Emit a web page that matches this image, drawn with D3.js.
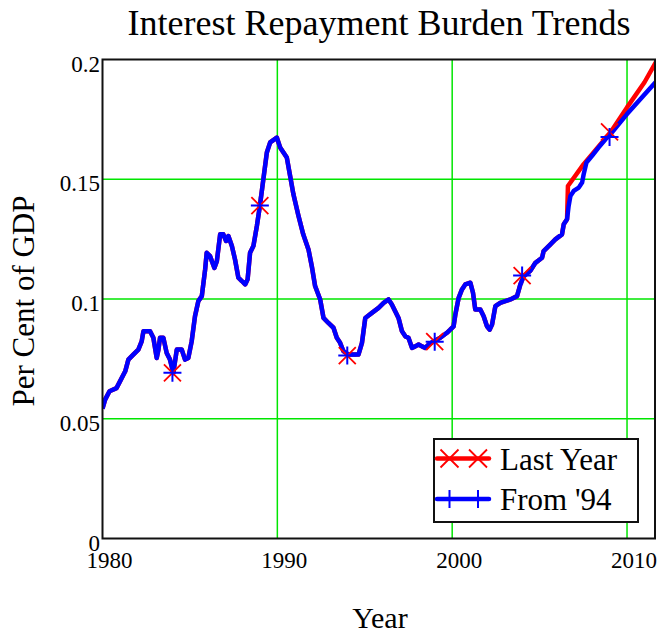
<!DOCTYPE html>
<html><head><meta charset="utf-8">
<script src="https://cdn.jsdelivr.net/npm/d3@7"></script>
<style>
html,body{margin:0;padding:0;background:#fff;}
svg{display:block;}
svg text{font-family:"Liberation Serif","Times New Roman",serif !important;}
</style></head>
<body>
<svg id="chart" width="659" height="639"></svg>
<script>
// ---- data ----
const title = "Interest Repayment Burden Trends";
const xLabel = "Year";
const yLabel = "Per Cent of GDP";
const xTicks = [1980, 1990, 2000, 2010];
const yTicks = [0, 0.05, 0.1, 0.15, 0.2];
const yTickLabels = ["0", "0.05", "0.1", "0.15", "0.2"];
const seriesNames = ["Last Year", "From '94"];
const seriesColors = ["#ff0000", "#0000ff"];

const years = [1980.0,1980.15,1980.4,1980.8,1981.0,1981.3,1981.48,1981.76,1982.05,1982.24,1982.34,1982.72,1982.91,1983.1,1983.2,1983.29,1983.48,1983.67,1983.86,1984.05,1984.25,1984.53,1984.72,1984.91,1985.1,1985.29,1985.48,1985.68,1985.87,1985.96,1986.15,1986.4,1986.54,1986.73,1986.91,1987.07,1987.2,1987.4,1987.58,1987.77,1987.97,1988.16,1988.3,1988.44,1988.63,1988.83,1989.0,1989.2,1989.4,1989.59,1989.97,1990.16,1990.35,1990.54,1990.73,1990.92,1991.2,1991.48,1991.78,1991.97,1992.16,1992.45,1992.64,1992.92,1993.21,1993.4,1993.59,1993.78,1994.07,1994.64,1994.84,1995.03,1995.41,1995.79,1996.08,1996.36,1996.55,1996.74,1996.93,1997.13,1997.32,1997.5,1997.7,1997.89,1998.08,1998.27,1998.46,1998.65,1998.94,1999.32,1999.7,1999.89,2000.08,2000.18,2000.37,2000.56,2000.75,2001.04,2001.19,2001.32,2001.61,2001.8,2001.99,2002.14,2002.28,2002.47,2002.75,2003.04,2003.33,2003.71,2003.9,2004.09,2004.47,2004.76,2005.14,2005.23,2005.62,2005.9,2006.28,2006.38,2006.57,2006.66,2006.76,2006.95,2007.24,2007.43,2007.52,2007.68,2008.0,2008.38,2008.77,2009.05,2009.53,2010.0,2010.77,2011.63];
const from94 = [0.0542,0.058,0.0615,0.0628,0.0656,0.0698,0.0747,0.0768,0.0789,0.0823,0.0865,0.0865,0.0838,0.0754,0.0789,0.0838,0.0838,0.0775,0.0747,0.0691,0.0789,0.0789,0.0747,0.0754,0.0823,0.0928,0.0991,0.1012,0.1123,0.1193,0.1179,0.113,0.1158,0.127,0.127,0.1242,0.1263,0.1221,0.1165,0.1089,0.1075,0.1061,0.1082,0.1193,0.1221,0.1305,0.1388,0.15,0.1612,0.1654,0.1674,0.1633,0.1612,0.1591,0.1514,0.1437,0.135,0.127,0.1207,0.1137,0.1054,0.0998,0.0921,0.09,0.088,0.0838,0.0817,0.0782,0.0768,0.0768,0.0817,0.0921,0.0942,0.0963,0.0984,0.0998,0.0977,0.0949,0.0921,0.0865,0.0844,0.0838,0.0796,0.0802,0.081,0.0802,0.0796,0.081,0.0823,0.0838,0.0859,0.0872,0.0886,0.0935,0.1005,0.104,0.1061,0.1068,0.1026,0.0956,0.0956,0.0928,0.0886,0.0872,0.0893,0.097,0.0984,0.0991,0.0998,0.1012,0.1061,0.1095,0.1118,0.1151,0.1172,0.12,0.1228,0.1249,0.127,0.1312,0.1333,0.1388,0.143,0.1451,0.1465,0.1486,0.1521,0.157,0.1598,0.1633,0.1667,0.1688,0.173,0.1772,0.1835,0.1905];

// "Last Year" follows the same history up to mid-2006, then its own projection
const lastYearSplit = 2006.57;
const lastYearTailYears = [2006.62, 2007.52, 2009.05, 2010.0, 2011.0, 2011.7];
const lastYearTail = [0.1472, 0.1563, 0.1695, 0.1800, 0.1905, 0.1995];

const markerYears = [1984, 1989, 1994, 1999, 2004, 2009];
const lastYearMarks = [0.0692, 0.139, 0.0764, 0.0822, 0.1098, 0.1698];
const from94Marks = [0.0692, 0.139, 0.0764, 0.0822, 0.1098, 0.1676];

// ---- build series ----
const blueData = years.map((y, i) => ({x: y, y: from94[i]}));
const redData = years.map((y, i) => ({x: y, y: from94[i]})).filter(d => d.x <= lastYearSplit)
  .concat(lastYearTailYears.map((y, i) => ({x: y, y: lastYearTail[i]})));

// ---- layout ----
const FONT = "Liberation Serif";
const svg = d3.select("#chart");
const L = 102.5, R = 655, T = 59.5, B = 538.5;
const x = d3.scaleLinear().domain([1980, 2011.6]).range([L, R]);
const y = d3.scaleLinear().domain([0, 0.2]).range([B, T]);

svg.append("defs").append("clipPath").attr("id", "clip")
  .append("rect").attr("x", L).attr("y", T).attr("width", R - L).attr("height", B - T);

// grid
const GRID = "#00e600";
const grid = svg.append("g");
grid.selectAll("line.gx").data(xTicks.filter(t => t > 1980)).join("line").attr("class", "gx")
  .attr("x1", d => x(d)).attr("x2", d => x(d))
  .attr("y1", T).attr("y2", B).attr("stroke", GRID).attr("stroke-width", 1.5);
grid.selectAll("line.gy").data(yTicks.filter(t => t > 0 && t < 0.2)).join("line").attr("class", "gy")
  .attr("y1", d => y(d)).attr("y2", d => y(d))
  .attr("x1", L).attr("x2", R).attr("stroke", GRID).attr("stroke-width", 1.5);

// axes (labels only)
const xAxis = svg.append("g").attr("transform", `translate(0,${B})`)
  .call(d3.axisBottom(x).tickValues(xTicks).tickSize(0).tickPadding(0).tickFormat(d3.format("d")));
xAxis.attr("font-family", FONT).attr("font-size", 23);
xAxis.select(".domain").remove();
xAxis.selectAll("text").style("font-family", FONT).style("font-size", "23px")
  .attr("fill", "#000").attr("dx", 6.5).attr("dy", 0).attr("y", 29.5);

const yAxis = svg.append("g").attr("transform", `translate(${L},0)`)
  .call(d3.axisLeft(y).tickValues(yTicks).tickSize(0).tickPadding(2.5).tickFormat((d, i) => yTickLabels[i]));
yAxis.attr("font-family", FONT).attr("font-size", 23);
yAxis.select(".domain").remove();
yAxis.selectAll("text").style("font-family", FONT).style("font-size", "23px")
  .attr("fill", "#000").attr("dy", 11.5);

// lines
const line = d3.line().x(d => x(d.x)).y(d => y(d.y));
const plot = svg.append("g").attr("clip-path", "url(#clip)");
plot.append("path").datum(redData).attr("d", line).attr("fill", "none")
  .attr("stroke", seriesColors[0]).attr("stroke-width", 4.5).attr("stroke-linejoin", "round");
plot.append("path").datum(blueData).attr("d", line).attr("fill", "none")
  .attr("stroke", seriesColors[1]).attr("stroke-width", 4.5).attr("stroke-linejoin", "round");

// markers
function cross(g, cx, cy, s, color, w) {
  g.append("path").attr("d", `M${cx - s},${cy - s}L${cx + s},${cy + s}M${cx - s},${cy + s}L${cx + s},${cy - s}`)
    .attr("stroke", color).attr("stroke-width", w).attr("fill", "none");
}
function plus(g, cx, cy, s, color, w) {
  g.append("path").attr("d", `M${cx - s},${cy}L${cx + s},${cy}M${cx},${cy - s}L${cx},${cy + s}`)
    .attr("stroke", color).attr("stroke-width", w).attr("fill", "none");
}
const mk = svg.append("g");
markerYears.forEach((yr, i) => cross(mk, x(yr), y(lastYearMarks[i]), 8.5, seriesColors[0], 1.8));
markerYears.forEach((yr, i) => plus(mk, x(yr), y(from94Marks[i]), 9, seriesColors[1], 2));

// frame
svg.append("rect").attr("x", L).attr("y", T).attr("width", R - L).attr("height", B - T)
  .attr("fill", "none").attr("stroke", "#111").attr("stroke-width", 2);

// legend
const lg = svg.append("g");
lg.append("rect").attr("x", 434).attr("y", 439).attr("width", 204).attr("height", 83)
  .attr("fill", "#fff").attr("stroke", "#111").attr("stroke-width", 2);
const legY = [458.5, 499];
seriesNames.forEach((name, i) => {
  lg.append("line").attr("x1", 437).attr("x2", 489).attr("y1", legY[i]).attr("y2", legY[i])
    .attr("stroke", seriesColors[i]).attr("stroke-width", 4.5).attr("stroke-linecap", "round");
  [449.5, 478].forEach(mx => {
    if (i === 0) cross(lg, mx, legY[i], 9, seriesColors[i], 1.8);
    else plus(lg, mx, legY[i], 9, seriesColors[i], 2);
  });
  lg.append("text").attr("x", 500).attr("y", legY[i] + 11).style("font-size", "31px")
    .attr("fill", "#000").text(name);
});

// titles
svg.append("text").attr("x", 379).attr("y", 35).attr("text-anchor", "middle")
  .style("font-size", "36px").attr("fill", "#000").text(title);
svg.append("text").attr("x", 380).attr("y", 628).attr("text-anchor", "middle")
  .style("font-size", "30px").attr("fill", "#000").text(xLabel);
svg.append("text").attr("transform", "translate(34,301) rotate(-90)").attr("text-anchor", "middle")
  .style("font-size", "31px").attr("fill", "#000").text(yLabel);
</script>
</body></html>
